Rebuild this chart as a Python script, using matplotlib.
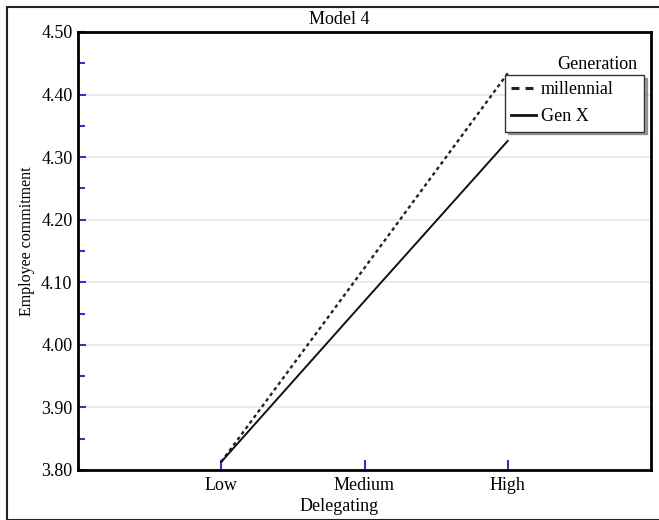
import matplotlib.pyplot as plt
from matplotlib.patches import Rectangle
from matplotlib.ticker import MultipleLocator

plt.rcParams['font.family'] = ['Liberation Serif', 'DejaVu Serif']

# Data
levels = ['Low', 'Medium', 'High']
millennial = [3.813, 4.123, 4.434]
gen_x = [3.813, 4.070, 4.326]
y_ticks = [3.80, 3.90, 4.00, 4.10, 4.20, 4.30, 4.40, 4.50]

fig = plt.figure(figsize=(6.59, 5.2), dpi=100)
ax = fig.add_axes([78 / 659, 50 / 520, 573 / 659, 438 / 520])

# outer frame around the figure
fig.patches.append(Rectangle((7 / 659, 0), 660 / 659, 513 / 520, transform=fig.transFigure,
                             fill=False, edgecolor='#222222', linewidth=1.5, zorder=0))

x = list(range(len(levels)))
ax.plot(x, millennial, color='#222222', linestyle=(0, (1.5, 1.4)), linewidth=1.7, label='millennial')
ax.plot(x, gen_x, color='#111111', linestyle='-', linewidth=1.4, label='Gen X')

ax.set_xlim(-1, 3)
ax.set_ylim(3.80, 4.50)
ax.set_xticks(x)
ax.set_xticklabels(levels)
ax.set_yticks(y_ticks)
ax.set_yticklabels([f'{v:.2f}' for v in y_ticks])
ax.yaxis.set_minor_locator(MultipleLocator(0.05))
ax.grid(axis='y', color='#e6e6e6', linewidth=1.2)
ax.set_axisbelow(True)

ax.tick_params(axis='both', which='both', direction='in', color='#3333cc', width=1.5, labelsize=13)
ax.tick_params(axis='y', which='major', length=6, pad=4)
ax.tick_params(axis='y', which='minor', length=5)
ax.tick_params(axis='x', length=7, pad=5)
for s in ax.spines.values():
    s.set_linewidth(2)
    s.set_color('black')

ax.set_xlabel('Delegating', fontsize=13)
ax.xaxis.set_label_coords(0.4555, -0.065)
ax.set_ylabel('Employee commitment', fontsize=11.5)
ax.yaxis.set_label_coords(-0.075, 0.523)
fig.text(339 / 659, 1 - 19 / 520, 'Model 4', ha='center', va='center', fontsize=13)

leg = ax.legend(loc='upper left', bbox_to_anchor=(0.7452, 0.7785, 0.2426, 0.1235), mode='expand',
                fontsize=13, frameon=True, fancybox=False, shadow=True,
                handlelength=1.35, borderpad=0.35, labelspacing=0.56, handletextpad=0.3,
                borderaxespad=0)
leg.get_frame().set_edgecolor('#333333')
leg.get_frame().set_linewidth(1.0)
leg.get_lines()[0].set_linestyle((0, (2.6, 2.0)))
leg.get_lines()[0].set_linewidth(2.2)
leg.get_lines()[1].set_linewidth(2.0)
ax.text(0.9756, 0.9247, 'Generation', transform=ax.transAxes, ha='right', va='center', fontsize=13)

fig.savefig('out.png', dpi=100)
